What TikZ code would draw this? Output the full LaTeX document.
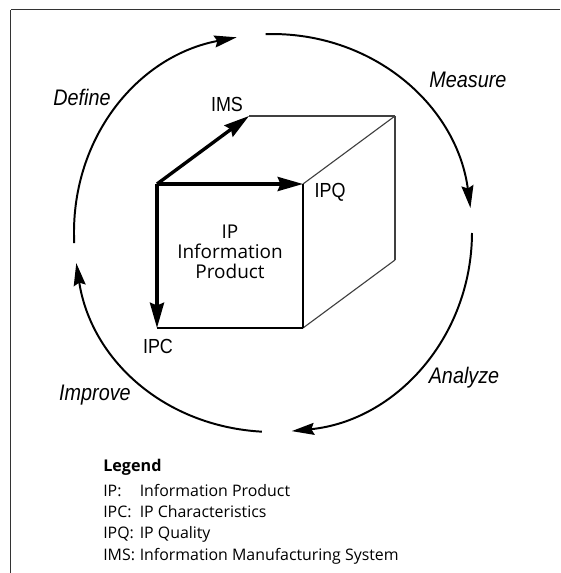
\documentclass[tikz,border=0pt]{standalone}
\usepackage{fontspec}
\setmainfont{Open Sans}
\newfontfamily\narrowfont[FakeStretch=0.88]{Liberation Sans}
\usepackage{tikz}
\usetikzlibrary{arrows.meta}
\tikzstyle{none}=[inner sep=0pt]
\tikzstyle{frameline}=[-,draw=black!80,line width=1.000]
\tikzstyle{cyclearrow}=[-{Stealth[length=16pt,width=8.5pt,inset=2pt]},line width=1.400]
\tikzstyle{axisarrow}=[-{Stealth[length=18pt,width=10pt,inset=2pt]},line width=2.400]
\tikzstyle{frontedge}=[-,line width=1.300]
\tikzstyle{backedge}=[-,draw=black!75,line width=0.800]
\tikzstyle{phaselabel}=[inner sep=0pt,font=\narrowfont\itshape\fontsize{16}{18}\selectfont]
\tikzstyle{axislabel}=[inner sep=0pt,font=\narrowfont\fontsize{14.5}{16}\selectfont]
\tikzstyle{product}=[inner sep=0pt,align=center,font=\fontsize{13.5}{14.2}\selectfont]
\tikzstyle{legendtext}=[inner sep=0pt,anchor=west,font=\fontsize{11.3}{15.2}\selectfont]
\pgfdeclarelayer{edgelayer}
\pgfdeclarelayer{nodelayer}
\pgfsetlayers{edgelayer,nodelayer,main}

\begin{document}
\begin{tikzpicture}
	\useasboundingbox (-6.825,-8.5) rectangle (7.175,5.825);
	\begin{pgfonlayer}{nodelayer}
		% frame corners
		\node [style=none] (Ftl) at (-6.56, 5.58) {};
		\node [style=none] (Ftr) at (7.175, 5.58) {};
		\node [style=none] (Fbl) at (-6.56, -8.5) {};

		% cube corners
		\node [style=none] (O) at (-2.9, 1.225) {};
		\node [style=none] (Ftr1) at (0.75, 1.225) {};
		\node [style=none] (Fbl1) at (-2.9, -2.375) {};
		\node [style=none] (Fbr1) at (0.75, -2.375) {};
		\node [style=none] (Btl) at (-0.6, 2.925) {};
		\node [style=none] (Btr) at (3.05, 2.925) {};
		\node [style=none] (Bbr) at (3.05, -0.675) {};

		\node [style=axislabel] (IMS) at (-1.15, 3.225) {IMS};
		\node [style=axislabel] (IPQ) at (1.425, 1.025) {IPQ};
		\node [style=axislabel] (IPC) at (-2.875, -2.825) {IPC};
		\node [style=product] (IP) at (-1.075, -0.475) {IP\\Information\\Product};

		% ends of the four arcs
		\node [style=none] (d1) at (-4.969, -0.252) {};
		\node [style=none] (d2) at (-0.907, 4.892) {};
		\node [style=none] (m1) at (-0.182, 4.972) {};
		\node [style=none] (m2) at (4.936, 0.624) {};
		\node [style=none] (a1) at (4.975, 0) {};
		\node [style=none] (a2) at (0.468, -4.953) {};
		\node [style=none] (i1) at (-0.278, -4.967) {};
		\node [style=none] (i2) at (-4.918, -0.753) {};

		\node [style=phaselabel] (define) at (-4.775, 3.4) {Define};
		\node [style=phaselabel] (measure) at (4.875, 3.825) {Measure};
		\node [style=phaselabel] (analyze) at (4.775, -3.625) {Analyze};
		\node [style=phaselabel] (improve) at (-4.45, -4.05) {Improve};

		\node [style=legendtext, font=\bfseries\fontsize{11.5}{13}\selectfont] (key) at (-4.25, -5.85) {Legend};
		\node [style=legendtext] (keys) at (-4.25, -7.275) {\begin{tabular}{@{}l@{\hspace{0.3em}}l@{}}
			IP: & Information Product\\
			IPC: & IP Characteristics\\
			IPQ: & IP Quality\\
			IMS: & Information Manufacturing System
		\end{tabular}};
	\end{pgfonlayer}
	\begin{pgfonlayer}{edgelayer}
		\draw [style=frameline] (Ftr.center) to (Ftl.center);
		\draw [style=frameline] (Ftl.center) to (Fbl.center);

		\draw [style=backedge] (Btl.center) to (Btr.center);
		\draw [style=backedge] (Btr.center) to (Bbr.center);
		\draw [style=backedge] (Ftr1.center) to (Btr.center);
		\draw [style=backedge] (Fbr1.center) to (Bbr.center);
		\draw [style=frontedge] (Ftr1.center) to (Fbr1.center);
		\draw [style=frontedge] (Fbr1.center) to (Fbl1.center);
		\draw [style=axisarrow] (O.center) to (Btl.center);
		\draw [style=axisarrow] (O.center) to (Ftr1.center);
		\draw [style=axisarrow] (O.center) to (Fbl1.center);

		\draw [style=cyclearrow, bend left=41] (d1.center) to (d2.center);
		\draw [style=cyclearrow, bend left=42] (m1.center) to (m2.center);
		\draw [style=cyclearrow, bend left=42] (a1.center) to (a2.center);
		\draw [style=cyclearrow, bend left=39] (i1.center) to (i2.center);
	\end{pgfonlayer}
\end{tikzpicture}
\end{document}
